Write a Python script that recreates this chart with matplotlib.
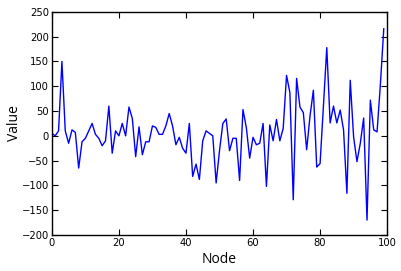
import matplotlib
matplotlib.use('Agg')
import matplotlib.pyplot as plt
import numpy as np

# values per node
nodes = np.arange(100)
values = [5, 0, 10, 150, 10, -15, 12, 7, -65, -12,
          -5, 10, 25, 3, -5, -20, -10, 60, -35, 10,
          0, 25, 0, 58, 35, -42, 18, -38, -12, -12,
          20, 17, 3, 3, 20, 45, 20, -18, -3, -25,
          -35, 25, -82, -57, -88, -10, 10, 5, 0, -95,
          -30, 25, 34, -30, -5, -5, -90, 53, 17, -45,
          -3, -18, -15, 25, -102, 22, -10, 33, -10, 15,
          122, 87, -129, 116, 58, 47, -28, 40, 92, -63,
          -56, 60, 178, 26, 60, 26, 52, 12, -116, 112,
          -2, -52, -15, 36, -170, 72, 12, 8, 105, 216]

x_ticks = [0, 20, 40, 60, 80, 100]
y_ticks = [-200, -150, -100, -50, 0, 50, 100, 150, 200, 250]

fig = plt.figure(figsize=(4.02, 2.71), dpi=100)
ax = fig.add_axes([0.129, 0.133, 0.834, 0.823])
ax.plot(nodes, values, color='b', linewidth=1.0)
ax.set_xlim(0, 100)
ax.set_ylim(-200, 250)
ax.set_xticks(x_ticks)
ax.set_yticks(y_ticks)
ax.tick_params(direction='in', top=True, right=True, labelsize=7.2, length=4, pad=2)
for s in ax.spines.values():
    s.set_linewidth(1.0)
ax.set_xlabel('Node', fontsize=10, family='Open Sans', labelpad=3)
ax.set_ylabel('Value', fontsize=10, family='Open Sans', labelpad=0)

fig.savefig('out.png', dpi=100)
